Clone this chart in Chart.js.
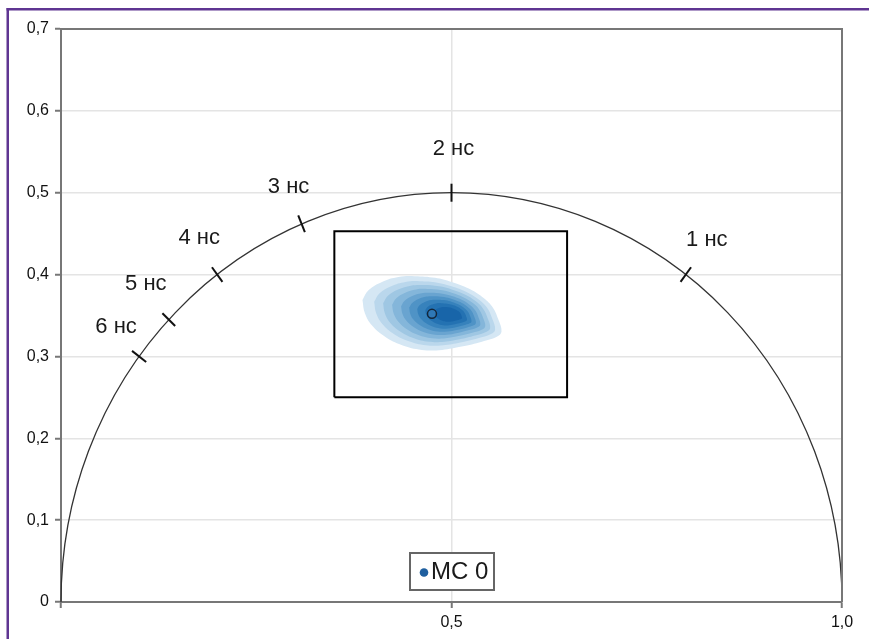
<!DOCTYPE html>
<html>
<head>
<meta charset="utf-8">
<script src="https://cdn.jsdelivr.net/npm/chart.js@4.4.0/dist/chart.umd.min.js"></script>
<style>
  html, body { margin: 0; padding: 0; background: #fff; }
  canvas { display: block; }
</style>
</head>
<body>
<canvas id="phasor" width="869" height="639"></canvas>
<script>
// Lifetime markers on the universal semicircle (g, s)
const lifetimeLabels = ['1 нс', '2 нс', '3 нс', '4 нс', '5 нс', '6 нс'];
const lifetimeG = [0.8, 0.5, 0.308, 0.2, 0.138, 0.1];
const lifetimeS = [0.4, 0.5, 0.462, 0.4, 0.345, 0.3];

// Mean phasor of the sample
const sampleName = 'МС 0';
const sampleG = [0.475];
const sampleS = [0.352];

// Region of interest (closed rectangle)
const roiG = [0.35, 0.648, 0.648, 0.35, 0.35];
const roiS = [0.25, 0.25, 0.453, 0.453, 0.25];

// Outer boundary of the phasor density cloud
const densityOuterG = [0.386, 0.394, 0.411, 0.432, 0.453, 0.479, 0.500, 0.522, 0.539, 0.552,
                       0.560, 0.564, 0.558, 0.539, 0.513, 0.488, 0.462, 0.436, 0.415, 0.398, 0.389];
const densityOuterS = [0.369, 0.381, 0.391, 0.397, 0.398, 0.396, 0.391, 0.383, 0.373, 0.361,
                       0.345, 0.330, 0.324, 0.318, 0.312, 0.308, 0.308, 0.314, 0.324, 0.338, 0.353];
// Density maximum and relative size of each contour level
const densityPeakG = 0.501;
const densityPeakS = 0.351;
const densityLevels = [1, 0.87, 0.77, 0.67, 0.57, 0.48, 0.39, 0.3, 0.2];

// Axis ticks
const xTickValues = [0, 0.5, 1];
const yTickValues = [0, 0.1, 0.2, 0.3, 0.4, 0.5, 0.6, 0.7];

// Styling
const densityColors = ['#d5e7f4', '#bad7ec', '#9fc7e3', '#84b6da', '#69a4d0', '#4f93c6',
                       '#3782bc', '#2472b2', '#1865a9'];
const labelOffsets = [[21, -35], [2, -44], [-13, -37], [-18, -37], [-23, -36], [-23, -29]];

const fmt = v => (v === 0 ? '0' : v.toFixed(1).replace('.', ','));

// Build contour polygons: each level shrinks the outer boundary toward the peak
const contourDatasets = densityLevels.map((k, i) => {
  const pts = densityOuterG.map((g, j) => ({
    x: densityPeakG + k * (g - densityPeakG),
    y: densityPeakS + k * (densityOuterS[j] - densityPeakS)
  }));
  pts.push({ ...pts[0] });
  return {
    label: 'level' + i,
    data: pts,
    showLine: true,
    fill: 'shape',
    backgroundColor: densityColors[i],
    borderColor: 'rgba(0,0,0,0)',
    borderWidth: 0,
    pointRadius: 0,
    tension: 0.4,
    order: 40 - i
  };
});

const roiDataset = {
  label: 'roi',
  data: roiG.map((g, i) => ({ x: g, y: roiS[i] })),
  showLine: true,
  fill: false,
  borderColor: '#000',
  borderWidth: 2,
  pointRadius: 0,
  tension: 0,
  order: 2
};

const sampleDataset = {
  label: sampleName,
  data: sampleG.map((g, i) => ({ x: g, y: sampleS[i] })),
  showLine: false,
  pointRadius: 4.5,
  backgroundColor: '#2f78b6',
  borderColor: '#14263a',
  borderWidth: 1.5,
  order: 1
};

// Semicircle, lifetime ticks and labels, plot frame, legend, outer border
const decorPlugin = {
  id: 'decor',
  afterDatasetsDraw(chart) {
    const { ctx, chartArea: a, scales: { x, y } } = chart;
    const cx = x.getPixelForValue(0.5), cy = y.getPixelForValue(0);
    const rx = x.getPixelForValue(1) - cx, ry = cy - y.getPixelForValue(0.5);
    ctx.save();
    ctx.beginPath();
    ctx.ellipse(cx, cy, rx, ry, 0, Math.PI, 2 * Math.PI);
    ctx.strokeStyle = '#333';
    ctx.lineWidth = 1.3;
    ctx.stroke();

    ctx.strokeStyle = '#111';
    ctx.lineWidth = 2;
    ctx.font = '22px "Liberation Sans", Arial, sans-serif';
    ctx.fillStyle = '#1a1a1a';
    ctx.textAlign = 'center';
    ctx.textBaseline = 'middle';
    lifetimeG.forEach((g, i) => {
      const px = x.getPixelForValue(g), py = y.getPixelForValue(lifetimeS[i]);
      let ux = px - cx, uy = py - cy;
      const len = Math.hypot(ux, uy); ux /= len; uy /= len;
      ctx.beginPath();
      ctx.moveTo(px - 9 * ux, py - 9 * uy);
      ctx.lineTo(px + 9 * ux, py + 9 * uy);
      ctx.stroke();
      ctx.fillText(lifetimeLabels[i], px + labelOffsets[i][0], py + labelOffsets[i][1]);
    });

    // top and right edges of the plot frame
    ctx.strokeStyle = '#777';
    ctx.lineWidth = 2;
    ctx.beginPath();
    ctx.moveTo(a.left, a.top);
    ctx.lineTo(a.right, a.top);
    ctx.lineTo(a.right, a.bottom);
    ctx.stroke();

    // legend box
    const lw = 84, lh = 37;
    const lx = Math.round(cx - lw / 2), ly = a.bottom - 12 - lh;
    ctx.fillStyle = '#fff';
    ctx.fillRect(lx, ly, lw, lh);
    ctx.strokeStyle = '#666';
    ctx.lineWidth = 2;
    ctx.strokeRect(lx, ly, lw, lh);
    ctx.beginPath();
    ctx.arc(lx + 14, ly + lh / 2 + 1, 4.3, 0, 2 * Math.PI);
    ctx.fillStyle = '#1f5f9f';
    ctx.fill();
    ctx.fillStyle = '#1a1a1a';
    ctx.font = '24px "Liberation Sans", Arial, sans-serif';
    ctx.textAlign = 'left';
    ctx.fillText(sampleName, lx + 21, ly + lh / 2 + 1);
    ctx.restore();
  },
  afterDraw(chart) {
    const ctx = chart.ctx;
    ctx.save();
    ctx.fillStyle = '#5f3592';
    ctx.fillRect(6.5, 8, 2.5, chart.height);
    ctx.fillRect(6.5, 8, chart.width, 2.5);
    ctx.restore();
  }
};

const bgPlugin = {
  id: 'bg',
  beforeDraw(chart) {
    const ctx = chart.ctx;
    ctx.save();
    ctx.fillStyle = '#fff';
    ctx.fillRect(0, 0, chart.width, chart.height);
    ctx.restore();
  }
};

const tickFont = { family: '"Liberation Sans", Arial, sans-serif', size: 16 };

new Chart(document.getElementById('phasor'), {
  type: 'scatter',
  data: { datasets: [sampleDataset, roiDataset, ...contourDatasets] },
  options: {
    responsive: false,
    animation: false,
    layout: { padding: { left: 0, top: 29, right: 27, bottom: 0 } },
    plugins: { legend: { display: false }, tooltip: { enabled: false } },
    scales: {
      x: {
        type: 'linear',
        min: 0, max: 1,
        afterFit: s => { s.height = 37; },
        afterBuildTicks: s => { s.ticks = xTickValues.map(v => ({ value: v })); },
        ticks: {
          callback: v => (v === 0 ? '' : fmt(v)),
          font: tickFont,
          color: '#111',
          padding: 5,
          maxRotation: 0
        },
        grid: {
          color: c => (c.tick && c.tick.value === 0.5 ? '#e4e4e4' : 'rgba(0,0,0,0)'),
          lineWidth: 1.5,
          tickColor: '#777',
          tickLength: 6,
          tickWidth: 2
        },
        border: { color: '#777', width: 2 }
      },
      y: {
        type: 'linear',
        min: 0, max: 0.7,
        afterFit: s => { s.width = 61; },
        afterBuildTicks: s => { s.ticks = yTickValues.map(v => ({ value: v })); },
        ticks: {
          callback: v => fmt(v),
          font: tickFont,
          color: '#111',
          padding: 6
        },
        grid: {
          color: c => (c.tick && c.tick.value > 0 && c.tick.value < 0.7 ? '#e4e4e4' : 'rgba(0,0,0,0)'),
          lineWidth: 1.5,
          tickColor: '#777',
          tickLength: 6,
          tickWidth: 2
        },
        border: { color: '#777', width: 2 }
      }
    }
  },
  plugins: [bgPlugin, decorPlugin]
});
</script>
</body>
</html>
